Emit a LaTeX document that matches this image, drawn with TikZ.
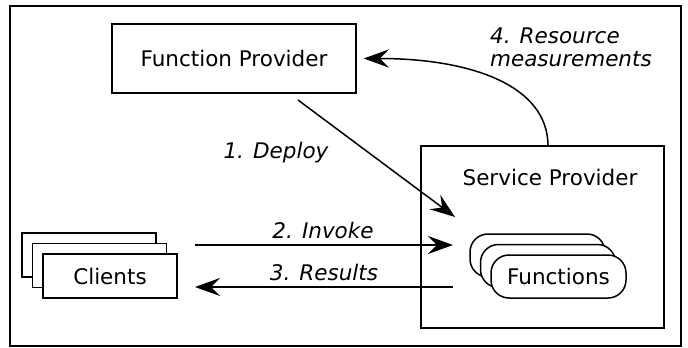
\documentclass[tikz,border=0pt]{standalone}
\usepackage{fontspec}
\setmainfont{DejaVu Sans}
\usetikzlibrary{arrows.meta}
\begin{document}
\begin{tikzpicture}[x=1pt, y=-1pt, line width=1.5pt,
    font=\fontsize{21.5}{23}\selectfont,
    box/.style={draw, fill=white, inner sep=0pt},
    client/.style={box, minimum width=134pt, minimum height=44pt},
    func/.style={box, rounded corners=18pt, minimum width=135pt, minimum height=43pt},
    flow/.style={-{Stealth[length=25pt, width=18pt, inset=9pt]}},
    tag/.style={font=\fontsize{21.5}{23}\selectfont\itshape}]
    \useasboundingbox (0,0) rectangle (688,348);
    \draw (10,6) rectangle (681,346);

    \node[box, minimum width=244pt, minimum height=69pt] (fprov) at (234,58.5) {Function Provider};
    \node[box, minimum width=243pt, minimum height=182pt] (sprov) at (542.5,237) {};
    \node (sprovtext) at (550,177) {Service Provider};

    % stacks, back to front
    \node[client] (clientc) at (89,255) {};
    \node[client] (clientb) at (99.5,265.5) {};
    \node[client] (clienta) at (110,276) {Clients};
    \node[func] (funcc) at (537.5,255.5) {};
    \node[func] (funcb) at (548,266) {};
    \node[func] (funca) at (558.5,276.5) {Functions};

    \coordinate (deploystart) at (298,100);
    \coordinate (deployend) at (455,217);
    \coordinate (invstart) at (195,245);
    \coordinate (invend) at (453,245);
    \coordinate (resstart) at (453,287);
    \coordinate (resend) at (195,287);
    \coordinate (measstart) at (548,146);

    \draw[flow] (deploystart) -- (deployend);
    \draw[flow] (invstart) -- (invend);
    \draw[flow] (resstart) -- (resend);
    \draw[flow, shorten >=7pt] (measstart) .. controls (548,85) and (470,58.5) .. (fprov.east);

    \node[tag] (deploylbl) at (276,153) {1. Deploy};
    \node[tag] (invokelbl) at (323,230) {2. Invoke};
    \node[tag] (resultlbl) at (324,272) {3. Results};
    \node[tag, align=left, anchor=west] (measlbl) at (486,47) {4. Resource\\measurements};
\end{tikzpicture}
\end{document}
